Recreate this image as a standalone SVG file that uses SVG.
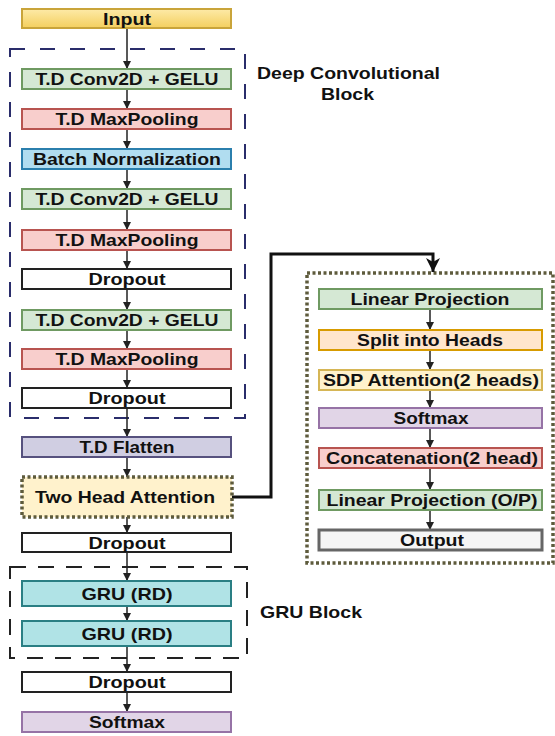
<svg xmlns="http://www.w3.org/2000/svg" width="555" height="736" viewBox="0 0 555 736">
<defs>
<linearGradient id="gIn" x1="0" y1="0" x2="0" y2="1"><stop offset="0" stop-color="#fdeaa8"/><stop offset="1" stop-color="#f4cf5e"/></linearGradient>
<marker id="ar" markerUnits="userSpaceOnUse" markerWidth="8" markerHeight="8" refX="8" refY="4" orient="auto"><path d="M0,0 L8,4 L0,8 z" fill="#222"/></marker>
<marker id="arB" markerUnits="userSpaceOnUse" markerWidth="14" markerHeight="14" refX="14" refY="7" orient="auto"><path d="M0,0 L14,7 L0,14 L4,7 z" fill="#111"/></marker>
<style>
.t{font-family:"Liberation Sans",Arial,sans-serif;font-weight:bold;font-size:17px;fill:#111;text-anchor:middle}
.lbl{font-family:"Liberation Sans",Arial,sans-serif;font-weight:bold;font-size:17px;fill:#111}
.b{stroke-width:2}
.conv{fill:#d5e8d4;stroke:#6f9a62}
.pool{fill:#f8cecc;stroke:#b85450}
.bn{fill:#b1ddf0;stroke:#2b7fad}
.drop{fill:#ffffff;stroke:#222}
.flat{fill:#d0cee2;stroke:#56517e}
.gru{fill:#b0e3e6;stroke:#2a7f84}
.soft{fill:#e1d5e7;stroke:#9673a6}
.split{fill:#ffe6cc;stroke:#d79b00}
.sdp{fill:#fff2cc;stroke:#d6b656}
.out{fill:#f5f5f5;stroke:#666;stroke-width:3}
.dot{stroke:#5e5b3c;stroke-width:3.5;stroke-dasharray:3 2.5}
.c{fill:none;stroke:#222;stroke-width:1.5;marker-end:url(#ar)}
</style>
</defs>

<g id="deep-conv-block">
<rect x="10" y="49" width="235" height="369" fill="none" stroke="#2a2d6b" stroke-width="2" stroke-dasharray="15 15"/>
<text class="lbl" x="257" y="79" textLength="183" lengthAdjust="spacingAndGlyphs">Deep Convolutional</text>
<text class="lbl" x="321" y="100" textLength="53" lengthAdjust="spacingAndGlyphs">Block</text>
</g>
<g id="gru-block">
<rect x="10" y="567" width="237" height="91" fill="none" stroke="#222" stroke-width="2" stroke-dasharray="16 12"/>
<text class="lbl" x="260" y="618" textLength="102" lengthAdjust="spacingAndGlyphs">GRU Block</text>
</g>
<g id="attention-detail">
<rect class="dot" x="307" y="273" width="246" height="290" fill="none"/>
</g>

<g id="connectors">
<path class="c" d="M127,28 V69"/>
<path class="c" d="M127,89 V109"/>
<path class="c" d="M127,129 V149"/>
<path class="c" d="M127,169 V189"/>
<path class="c" d="M127,209 V230"/>
<path class="c" d="M127,250 V269"/>
<path class="c" d="M127,289 V310"/>
<path class="c" d="M127,330 V349"/>
<path class="c" d="M127,369 V388"/>
<path class="c" d="M127,408 V437"/>
<path class="c" d="M127,457 V477"/>
<path class="c" d="M127,517 V533"/>
<path class="c" d="M127,552 V581"/>
<path class="c" d="M127,606 V621"/>
<path class="c" d="M127,646 V672"/>
<path class="c" d="M127,692 V712"/>
<path d="M232,497 H271 V254 H433 V272" fill="none" stroke="#111" stroke-width="3" marker-end="url(#arB)"/>
<path class="c" d="M430,309 V330"/>
<path class="c" d="M430,350 V370"/>
<path class="c" d="M430,390 V408"/>
<path class="c" d="M430,428 V448"/>
<path class="c" d="M430,468 V490"/>
<path class="c" d="M430,510 V530"/>
</g>

<g id="input"><rect class="b" x="22" y="9" width="209" height="19" fill="url(#gIn)" stroke="#c9a43a"/><text class="t" x="127" y="24.5" textLength="48" lengthAdjust="spacingAndGlyphs">Input</text></g>
<g id="conv1"><rect class="b conv" x="22" y="69" width="209" height="20"/><text class="t" x="127" y="85" textLength="183" lengthAdjust="spacingAndGlyphs">T.D Conv2D + GELU</text></g>
<g id="pool1"><rect class="b pool" x="22" y="109" width="209" height="20"/><text class="t" x="127" y="125" textLength="143" lengthAdjust="spacingAndGlyphs">T.D MaxPooling</text></g>
<g id="batchnorm"><rect class="b bn" x="22" y="149" width="209" height="20"/><text class="t" x="127" y="165" textLength="188" lengthAdjust="spacingAndGlyphs">Batch Normalization</text></g>
<g id="conv2"><rect class="b conv" x="22" y="189" width="209" height="20"/><text class="t" x="127" y="205" textLength="183" lengthAdjust="spacingAndGlyphs">T.D Conv2D + GELU</text></g>
<g id="pool2"><rect class="b pool" x="22" y="230" width="209" height="20"/><text class="t" x="127" y="246" textLength="143" lengthAdjust="spacingAndGlyphs">T.D MaxPooling</text></g>
<g id="dropout1"><rect class="b drop" x="22" y="269" width="209" height="20"/><text class="t" x="127" y="285" textLength="77" lengthAdjust="spacingAndGlyphs">Dropout</text></g>
<g id="conv3"><rect class="b conv" x="22" y="310" width="209" height="20"/><text class="t" x="127" y="326" textLength="183" lengthAdjust="spacingAndGlyphs">T.D Conv2D + GELU</text></g>
<g id="pool3"><rect class="b pool" x="22" y="349" width="209" height="20"/><text class="t" x="127" y="365" textLength="143" lengthAdjust="spacingAndGlyphs">T.D MaxPooling</text></g>
<g id="dropout2"><rect class="b drop" x="22" y="388" width="209" height="20"/><text class="t" x="127" y="404" textLength="77" lengthAdjust="spacingAndGlyphs">Dropout</text></g>
<g id="flatten"><rect class="b flat" x="22" y="437" width="209" height="20"/><text class="t" x="127" y="453" textLength="95" lengthAdjust="spacingAndGlyphs">T.D Flatten</text></g>
<g id="two-head-attention"><rect class="dot" x="22" y="477" width="210" height="40" fill="#fff2cc"/><text class="t" x="125" y="503" textLength="180" lengthAdjust="spacingAndGlyphs">Two Head Attention</text></g>
<g id="dropout3"><rect class="b drop" x="22" y="533" width="209" height="19"/><text class="t" x="127" y="548.5" textLength="77" lengthAdjust="spacingAndGlyphs">Dropout</text></g>
<g id="gru1"><rect class="b gru" x="22" y="581" width="209" height="25"/><text class="t" x="127" y="599.5" textLength="91" lengthAdjust="spacingAndGlyphs">GRU (RD)</text></g>
<g id="gru2"><rect class="b gru" x="22" y="621" width="209" height="25"/><text class="t" x="127" y="639.5" textLength="91" lengthAdjust="spacingAndGlyphs">GRU (RD)</text></g>
<g id="dropout4"><rect class="b drop" x="22" y="672" width="209" height="20"/><text class="t" x="127" y="688" textLength="77" lengthAdjust="spacingAndGlyphs">Dropout</text></g>
<g id="softmax"><rect class="b soft" x="22" y="712" width="209" height="20"/><text class="t" x="127" y="728" textLength="76" lengthAdjust="spacingAndGlyphs">Softmax</text></g>

<g id="linear-projection"><rect class="b conv" x="319" y="289" width="223" height="20"/><text class="t" x="430" y="305" textLength="159" lengthAdjust="spacingAndGlyphs">Linear Projection</text></g>
<g id="split-heads"><rect class="b split" x="319" y="330" width="223" height="20"/><text class="t" x="430" y="346" textLength="146" lengthAdjust="spacingAndGlyphs">Split into Heads</text></g>
<g id="sdp-attention"><rect class="b sdp" x="319" y="370" width="223" height="20"/><text class="t" x="431" y="386" textLength="216" lengthAdjust="spacingAndGlyphs">SDP Attention(2 heads)</text></g>
<g id="softmax-attn"><rect class="b soft" x="319" y="408" width="223" height="20"/><text class="t" x="431" y="424" textLength="75" lengthAdjust="spacingAndGlyphs">Softmax</text></g>
<g id="concatenation"><rect class="b pool" x="319" y="448" width="223" height="20"/><text class="t" x="432" y="464" textLength="212" lengthAdjust="spacingAndGlyphs">Concatenation(2 head)</text></g>
<g id="linear-projection-op"><rect class="b conv" x="319" y="490" width="223" height="20"/><text class="t" x="432" y="506" textLength="211" lengthAdjust="spacingAndGlyphs">Linear Projection (O/P)</text></g>
<g id="output"><rect class="out" x="319" y="530" width="223" height="20"/><text class="t" x="432" y="546" textLength="64" lengthAdjust="spacingAndGlyphs">Output</text></g>
</svg>
